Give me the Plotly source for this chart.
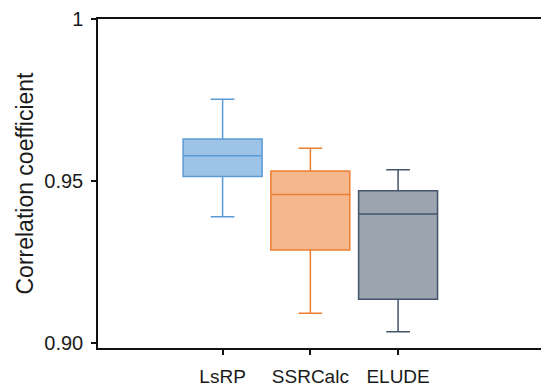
import plotly.graph_objects as go

categories = ["LsRP", "SSRCalc", "ELUDE"]
lower_fence = [0.9390, 0.9092, 0.9035]
q1 = [0.9514, 0.9287, 0.9135]
median = [0.9578, 0.9458, 0.9398]
q3 = [0.9630, 0.9531, 0.9470]
upper_fence = [0.9752, 0.9601, 0.9535]
line_colors = ["#5b9bd5", "#ed7d31", "#44546a"]
fill_colors = ["rgba(91,155,213,0.6)", "rgba(237,125,49,0.55)", "rgba(68,84,106,0.53)"]
y_tickvals = [0.90, 0.95, 1.0]
y_ticktext = ["0.90", "0.95", "1"]

fig = go.Figure()
for i, name in enumerate(categories):
    fig.add_trace(go.Box(
        x=[i], q1=[q1[i]], median=[median[i]], q3=[q3[i]],
        lowerfence=[lower_fence[i]], upperfence=[upper_fence[i]],
        name=name, width=0.9, whiskerwidth=0.3,
        line=dict(color=line_colors[i], width=1.5),
        fillcolor=fill_colors[i], showlegend=False,
        boxpoints=False,
    ))

# The page body has an 8px default margin, so the figure is sized to fit the
# remaining window area (541x379) and margins compensate for the offset.
font_family = "Liberation Sans, Arial, sans-serif"
fig.update_layout(
    width=541, height=379,
    margin=dict(l=90, r=0, t=11, b=39),
    paper_bgcolor="white", plot_bgcolor="white",
    font=dict(family=font_family, color="#1a1a1a"),
    xaxis=dict(
        range=[-1.42, 3.72], automargin=False,
        tickvals=list(range(len(categories))), ticktext=categories,
        showgrid=False, zeroline=False,
        showline=True, linecolor="#111111", linewidth=1.5, mirror=True,
        ticks="outside", ticklen=5, tickwidth=1.5, tickcolor="#111111",
        ticklabelstandoff=5,
        tickfont=dict(size=19, family=font_family, color="#1a1a1a"),
    ),
    yaxis=dict(
        range=[0.89846, 1.0], automargin=False,
        tickvals=y_tickvals, ticktext=y_ticktext,
        showgrid=False, zeroline=False,
        showline=True, linecolor="#111111", linewidth=1.5,
        ticks="outside", ticklen=5, tickwidth=1.5, tickcolor="#111111",
        ticklabelstandoff=4,
        tickfont=dict(size=20, family=font_family, color="#1a1a1a"),
        title=dict(text="Correlation coefficient", font=dict(size=23, family=font_family, color="#1a1a1a"), standoff=4),
    ),
)

fig.write_html("out.html")
